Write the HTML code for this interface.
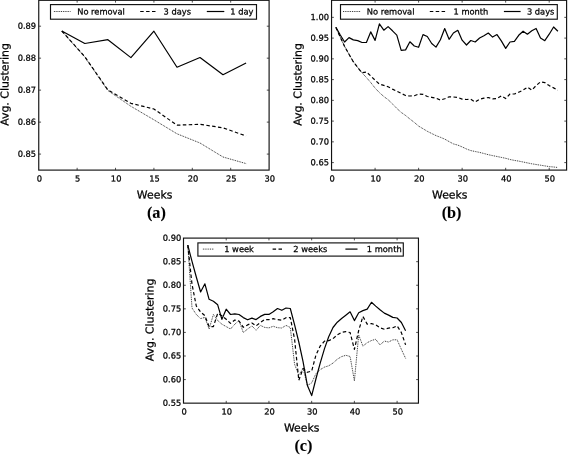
<!DOCTYPE html>
<html lang="en"><head><meta charset="utf-8"><title>Avg. Clustering vs Weeks</title>
<style>
html,body{margin:0;padding:0;background:#fff;}
body{width:568px;height:455px;overflow:hidden;}
svg{display:block;}
text{font-family:"DejaVu Sans","Liberation Sans",sans-serif;fill:#000;text-rendering:geometricPrecision;stroke:#000;stroke-width:0.25px;}
.tk{font-size:8.3px;}
.lb{font-size:10.9px;}
.lg{font-size:8.3px;}
.cap{font-family:"Liberation Serif",serif;font-weight:bold;font-size:16.3px;stroke-width:0.08px;}
.ax{fill:none;stroke:#111;stroke-width:1.15;}
.t{stroke:#222;stroke-width:0.8;}
.s{fill:none;stroke:#000;stroke-width:1.2;stroke-linejoin:round;}
.d{fill:none;stroke:#000;stroke-width:1.2;stroke-dasharray:3.5 2.4;stroke-linejoin:round;}
.o{fill:none;stroke:#111;stroke-width:0.9;stroke-dasharray:0.9 0.9;}
</style></head><body>
<svg width="568" height="455" viewBox="0 0 568 455">
<rect width="568" height="455" fill="#fff"/>
<rect class="ax" x="38.75" y="0.3" width="230.35000000000002" height="169.79999999999998"/>
<text class="tk" transform="translate(39.35,181.40) skewY(0.03)" text-anchor="middle">0</text>
<line class="t" x1="77.14" y1="170.1" x2="77.14" y2="167.79999999999998"/>
<line class="t" x1="77.14" y1="0.3" x2="77.14" y2="2.5999999999999996"/>
<text class="tk" transform="translate(77.74,181.40) skewY(0.03)" text-anchor="middle">5</text>
<line class="t" x1="115.53" y1="170.1" x2="115.53" y2="167.79999999999998"/>
<line class="t" x1="115.53" y1="0.3" x2="115.53" y2="2.5999999999999996"/>
<text class="tk" transform="translate(116.13,181.40) skewY(0.03)" text-anchor="middle">10</text>
<line class="t" x1="153.92000000000002" y1="170.1" x2="153.92000000000002" y2="167.79999999999998"/>
<line class="t" x1="153.92000000000002" y1="0.3" x2="153.92000000000002" y2="2.5999999999999996"/>
<text class="tk" transform="translate(154.52,181.40) skewY(0.03)" text-anchor="middle">15</text>
<line class="t" x1="192.31" y1="170.1" x2="192.31" y2="167.79999999999998"/>
<line class="t" x1="192.31" y1="0.3" x2="192.31" y2="2.5999999999999996"/>
<text class="tk" transform="translate(192.91,181.40) skewY(0.03)" text-anchor="middle">20</text>
<line class="t" x1="230.7" y1="170.1" x2="230.7" y2="167.79999999999998"/>
<line class="t" x1="230.7" y1="0.3" x2="230.7" y2="2.5999999999999996"/>
<text class="tk" transform="translate(231.30,181.40) skewY(0.03)" text-anchor="middle">25</text>
<text class="tk" transform="translate(269.69,181.40) skewY(0.03)" text-anchor="middle">30</text>
<line class="t" x1="38.75" y1="26.2" x2="41.05" y2="26.2"/>
<line class="t" x1="269.1" y1="26.2" x2="266.8" y2="26.2"/>
<text class="tk" transform="translate(36.15,28.80) skewY(0.03)" text-anchor="end">0.89</text>
<line class="t" x1="38.75" y1="58.17" x2="41.05" y2="58.17"/>
<line class="t" x1="269.1" y1="58.17" x2="266.8" y2="58.17"/>
<text class="tk" transform="translate(36.15,60.77) skewY(0.03)" text-anchor="end">0.88</text>
<line class="t" x1="38.75" y1="90.14" x2="41.05" y2="90.14"/>
<line class="t" x1="269.1" y1="90.14" x2="266.8" y2="90.14"/>
<text class="tk" transform="translate(36.15,92.74) skewY(0.03)" text-anchor="end">0.87</text>
<line class="t" x1="38.75" y1="122.11" x2="41.05" y2="122.11"/>
<line class="t" x1="269.1" y1="122.11" x2="266.8" y2="122.11"/>
<text class="tk" transform="translate(36.15,124.71) skewY(0.03)" text-anchor="end">0.86</text>
<line class="t" x1="38.75" y1="154.07999999999998" x2="41.05" y2="154.07999999999998"/>
<line class="t" x1="269.1" y1="154.07999999999998" x2="266.8" y2="154.07999999999998"/>
<text class="tk" transform="translate(36.15,156.68) skewY(0.03)" text-anchor="end">0.85</text>
<text class="lb" transform="translate(154.62,198.40) skewY(0.03)" text-anchor="middle">Weeks</text>
<text class="lb" transform="translate(8.60,84.50) rotate(-90) skewY(0.03)" text-anchor="middle">Avg. Clustering</text>
<text class="cap" transform="translate(156.43,217.80) skewY(0.03)" text-anchor="middle">(a)</text>
<polyline class="o" points="61.8,31.0 84.8,57.0 107.9,90.5 130.9,106.3 153.9,119.8 177.0,133.8 200.0,143.0 223.0,157.0 246.1,163.6"/>
<polyline class="d" points="61.8,31.0 84.8,56.7 107.9,90.0 130.9,103.3 153.9,109.0 177.0,125.2 200.0,124.3 223.0,127.8 246.1,136.0"/>
<polyline class="s" points="61.8,31.0 84.8,43.5 107.9,39.7 130.9,57.6 153.9,31.2 177.0,67.2 200.0,57.5 223.0,74.7 246.1,63.0"/>
<rect class="ax" x="50.5" y="4.6" width="206.0" height="14.6" fill="#fff" style="fill:#fff"/>
<line class="o" x1="53.9" y1="11.499999999999998" x2="70.6" y2="11.499999999999998"/>
<text class="lg" transform="translate(77.20,14.50) skewY(0.03)">No removal</text>
<line class="d" x1="140.2" y1="11.499999999999998" x2="157.7" y2="11.499999999999998"/>
<text class="lg" transform="translate(163.60,14.50) skewY(0.03)">3 days</text>
<line class="s" x1="206.8" y1="11.499999999999998" x2="224.3" y2="11.499999999999998"/>
<text class="lg" transform="translate(230.30,14.50) skewY(0.03)">1 day</text>
<rect class="ax" x="331.55" y="0.3" width="235.05" height="169.79999999999998"/>
<text class="tk" transform="translate(332.15,181.40) skewY(0.03)" text-anchor="middle">0</text>
<line class="t" x1="375.08000000000004" y1="170.1" x2="375.08000000000004" y2="167.79999999999998"/>
<line class="t" x1="375.08000000000004" y1="0.3" x2="375.08000000000004" y2="2.5999999999999996"/>
<text class="tk" transform="translate(375.68,181.40) skewY(0.03)" text-anchor="middle">10</text>
<line class="t" x1="418.61" y1="170.1" x2="418.61" y2="167.79999999999998"/>
<line class="t" x1="418.61" y1="0.3" x2="418.61" y2="2.5999999999999996"/>
<text class="tk" transform="translate(419.21,181.40) skewY(0.03)" text-anchor="middle">20</text>
<line class="t" x1="462.14" y1="170.1" x2="462.14" y2="167.79999999999998"/>
<line class="t" x1="462.14" y1="0.3" x2="462.14" y2="2.5999999999999996"/>
<text class="tk" transform="translate(462.74,181.40) skewY(0.03)" text-anchor="middle">30</text>
<line class="t" x1="505.67" y1="170.1" x2="505.67" y2="167.79999999999998"/>
<line class="t" x1="505.67" y1="0.3" x2="505.67" y2="2.5999999999999996"/>
<text class="tk" transform="translate(506.27,181.40) skewY(0.03)" text-anchor="middle">40</text>
<line class="t" x1="549.2" y1="170.1" x2="549.2" y2="167.79999999999998"/>
<line class="t" x1="549.2" y1="0.3" x2="549.2" y2="2.5999999999999996"/>
<text class="tk" transform="translate(549.80,181.40) skewY(0.03)" text-anchor="middle">50</text>
<line class="t" x1="331.55" y1="17.35" x2="333.85" y2="17.35"/>
<line class="t" x1="566.6" y1="17.35" x2="564.3000000000001" y2="17.35"/>
<text class="tk" transform="translate(328.95,19.95) skewY(0.03)" text-anchor="end">1.00</text>
<line class="t" x1="331.55" y1="38.1" x2="333.85" y2="38.1"/>
<line class="t" x1="566.6" y1="38.1" x2="564.3000000000001" y2="38.1"/>
<text class="tk" transform="translate(328.95,40.70) skewY(0.03)" text-anchor="end">0.95</text>
<line class="t" x1="331.55" y1="58.85" x2="333.85" y2="58.85"/>
<line class="t" x1="566.6" y1="58.85" x2="564.3000000000001" y2="58.85"/>
<text class="tk" transform="translate(328.95,61.45) skewY(0.03)" text-anchor="end">0.90</text>
<line class="t" x1="331.55" y1="79.6" x2="333.85" y2="79.6"/>
<line class="t" x1="566.6" y1="79.6" x2="564.3000000000001" y2="79.6"/>
<text class="tk" transform="translate(328.95,82.20) skewY(0.03)" text-anchor="end">0.85</text>
<line class="t" x1="331.55" y1="100.35" x2="333.85" y2="100.35"/>
<line class="t" x1="566.6" y1="100.35" x2="564.3000000000001" y2="100.35"/>
<text class="tk" transform="translate(328.95,102.95) skewY(0.03)" text-anchor="end">0.80</text>
<line class="t" x1="331.55" y1="121.1" x2="333.85" y2="121.1"/>
<line class="t" x1="566.6" y1="121.1" x2="564.3000000000001" y2="121.1"/>
<text class="tk" transform="translate(328.95,123.70) skewY(0.03)" text-anchor="end">0.75</text>
<line class="t" x1="331.55" y1="141.85" x2="333.85" y2="141.85"/>
<line class="t" x1="566.6" y1="141.85" x2="564.3000000000001" y2="141.85"/>
<text class="tk" transform="translate(328.95,144.45) skewY(0.03)" text-anchor="end">0.70</text>
<line class="t" x1="331.55" y1="162.6" x2="333.85" y2="162.6"/>
<line class="t" x1="566.6" y1="162.6" x2="564.3000000000001" y2="162.6"/>
<text class="tk" transform="translate(328.95,165.20) skewY(0.03)" text-anchor="end">0.65</text>
<text class="lb" transform="translate(449.78,198.40) skewY(0.03)" text-anchor="middle">Weeks</text>
<text class="lb" transform="translate(301.50,84.50) rotate(-90) skewY(0.03)" text-anchor="middle">Avg. Clustering</text>
<text class="cap" transform="translate(451.58,217.80) skewY(0.03)" text-anchor="middle">(b)</text>
<polyline class="o" points="335.9,27.4 340.3,37.2 344.6,46.4 349.0,54.3 353.3,61.7 357.7,67.5 362.0,72.8 366.4,77.5 370.7,82.5 375.1,88.1 379.4,92.6 383.8,96.5 388.1,99.7 392.5,103.9 396.8,108.4 401.2,112.4 405.6,115.5 409.9,119.0 414.3,122.4 418.6,126.1 423.0,128.7 427.3,131.3 431.7,133.5 436.0,135.6 440.4,137.3 444.7,139.1 449.1,141.6 453.4,143.9 457.8,145.1 462.1,146.9 466.5,149.0 470.8,150.6 475.2,151.5 479.6,152.4 483.9,153.5 488.3,154.7 492.6,155.6 497.0,156.5 501.3,157.4 505.7,158.3 510.0,159.5 514.4,160.4 518.7,161.1 523.1,162.0 527.4,162.9 531.8,163.8 536.1,164.5 540.5,165.2 544.8,165.9 549.2,166.6 553.6,167.0 557.9,167.5"/>
<polyline class="d" points="335.9,27.4 340.3,37.2 344.6,46.4 349.0,54.3 353.3,61.7 357.7,67.5 362.0,72.8 366.4,72.0 370.7,75.9 375.1,80.2 379.4,84.1 383.8,85.4 388.1,86.8 392.5,89.1 396.8,91.2 401.2,93.4 405.6,95.5 409.9,96.0 414.3,95.7 418.6,94.1 423.0,94.4 427.3,96.5 431.7,97.3 436.0,98.1 440.4,100.1 444.7,98.8 449.1,96.8 453.4,97.0 457.8,97.5 462.1,99.1 466.5,99.5 470.8,99.3 475.2,102.0 479.6,99.3 483.9,98.2 488.3,97.5 492.6,98.8 497.0,98.6 501.3,95.9 505.7,98.6 510.0,94.0 514.4,94.0 518.7,92.2 523.1,90.1 527.4,87.2 531.8,90.1 536.1,85.6 540.5,81.9 544.8,82.6 549.2,85.6 553.6,87.9 557.9,90.1"/>
<polyline class="s" points="335.9,27.2 340.3,35.0 344.6,42.0 349.0,37.6 353.3,39.9 357.7,40.6 362.0,42.5 366.4,42.5 370.7,31.9 375.1,40.4 379.4,23.9 383.8,30.2 388.1,26.6 392.5,30.8 396.8,35.1 401.2,50.3 405.6,49.9 409.9,41.8 414.3,46.0 418.6,47.3 423.0,34.6 427.3,36.5 431.7,43.5 436.0,47.1 440.4,39.8 444.7,28.5 449.1,39.3 453.4,33.0 457.8,30.3 462.1,40.2 466.5,45.0 470.8,40.5 475.2,42.0 479.6,38.0 483.9,35.7 488.3,33.0 492.6,37.1 497.0,34.6 501.3,40.9 505.7,48.4 510.0,42.0 514.4,41.4 518.7,35.3 523.1,31.2 527.4,34.2 531.8,30.8 536.1,28.5 540.5,38.0 544.8,40.7 549.2,34.2 553.6,27.0 557.9,31.2"/>
<rect class="ax" x="340.5" y="4.6" width="216.79999999999995" height="14.6" fill="#fff" style="fill:#fff"/>
<line class="o" x1="343" y1="11.499999999999998" x2="360.4" y2="11.499999999999998"/>
<text class="lg" transform="translate(366.80,14.50) skewY(0.03)">No removal</text>
<line class="d" x1="429.8" y1="11.499999999999998" x2="447.3" y2="11.499999999999998"/>
<text class="lg" transform="translate(453.50,14.50) skewY(0.03)">1 month</text>
<line class="s" x1="503.9" y1="11.499999999999998" x2="520.6" y2="11.499999999999998"/>
<text class="lg" transform="translate(526.90,14.50) skewY(0.03)">3 days</text>
<rect class="ax" x="183.5" y="238.1" width="234.95" height="165.04999999999998"/>
<text class="tk" transform="translate(184.10,414.40) skewY(0.03)" text-anchor="middle">0</text>
<line class="t" x1="226.22" y1="403.15" x2="226.22" y2="400.84999999999997"/>
<line class="t" x1="226.22" y1="238.1" x2="226.22" y2="240.4"/>
<text class="tk" transform="translate(226.82,414.40) skewY(0.03)" text-anchor="middle">10</text>
<line class="t" x1="268.94" y1="403.15" x2="268.94" y2="400.84999999999997"/>
<line class="t" x1="268.94" y1="238.1" x2="268.94" y2="240.4"/>
<text class="tk" transform="translate(269.54,414.40) skewY(0.03)" text-anchor="middle">20</text>
<line class="t" x1="311.65999999999997" y1="403.15" x2="311.65999999999997" y2="400.84999999999997"/>
<line class="t" x1="311.65999999999997" y1="238.1" x2="311.65999999999997" y2="240.4"/>
<text class="tk" transform="translate(312.26,414.40) skewY(0.03)" text-anchor="middle">30</text>
<line class="t" x1="354.38" y1="403.15" x2="354.38" y2="400.84999999999997"/>
<line class="t" x1="354.38" y1="238.1" x2="354.38" y2="240.4"/>
<text class="tk" transform="translate(354.98,414.40) skewY(0.03)" text-anchor="middle">40</text>
<line class="t" x1="397.1" y1="403.15" x2="397.1" y2="400.84999999999997"/>
<line class="t" x1="397.1" y1="238.1" x2="397.1" y2="240.4"/>
<text class="tk" transform="translate(397.70,414.40) skewY(0.03)" text-anchor="middle">50</text>
<text class="tk" transform="translate(181.30,240.70) skewY(0.03)" text-anchor="end">0.90</text>
<line class="t" x1="183.5" y1="261.68" x2="185.8" y2="261.68"/>
<line class="t" x1="418.45" y1="261.68" x2="416.15" y2="261.68"/>
<text class="tk" transform="translate(181.30,264.28) skewY(0.03)" text-anchor="end">0.85</text>
<line class="t" x1="183.5" y1="285.26" x2="185.8" y2="285.26"/>
<line class="t" x1="418.45" y1="285.26" x2="416.15" y2="285.26"/>
<text class="tk" transform="translate(181.30,287.86) skewY(0.03)" text-anchor="end">0.80</text>
<line class="t" x1="183.5" y1="308.84" x2="185.8" y2="308.84"/>
<line class="t" x1="418.45" y1="308.84" x2="416.15" y2="308.84"/>
<text class="tk" transform="translate(181.30,311.44) skewY(0.03)" text-anchor="end">0.75</text>
<line class="t" x1="183.5" y1="332.41999999999996" x2="185.8" y2="332.41999999999996"/>
<line class="t" x1="418.45" y1="332.41999999999996" x2="416.15" y2="332.41999999999996"/>
<text class="tk" transform="translate(181.30,335.02) skewY(0.03)" text-anchor="end">0.70</text>
<line class="t" x1="183.5" y1="356.0" x2="185.8" y2="356.0"/>
<line class="t" x1="418.45" y1="356.0" x2="416.15" y2="356.0"/>
<text class="tk" transform="translate(181.30,358.60) skewY(0.03)" text-anchor="end">0.65</text>
<line class="t" x1="183.5" y1="379.58" x2="185.8" y2="379.58"/>
<line class="t" x1="418.45" y1="379.58" x2="416.15" y2="379.58"/>
<text class="tk" transform="translate(181.30,382.18) skewY(0.03)" text-anchor="end">0.60</text>
<text class="tk" transform="translate(181.30,405.76) skewY(0.03)" text-anchor="end">0.55</text>
<text class="lb" transform="translate(301.68,431.60) skewY(0.03)" text-anchor="middle">Weeks</text>
<text class="lb" transform="translate(153.50,319.93) rotate(-90) skewY(0.03)" text-anchor="middle">Avg. Clustering</text>
<text class="cap" transform="translate(303.48,450.70) skewY(0.03)" text-anchor="middle">(c)</text>
<polyline class="o" points="187.8,245.2 192.0,308.0 196.3,314.5 200.6,318.6 204.9,317.4 209.1,329.0 213.4,314.5 217.7,320.5 221.9,324.2 226.2,326.6 230.5,329.0 234.8,324.2 239.0,320.5 243.3,332.6 247.6,329.0 251.9,325.9 256.1,330.2 260.4,325.4 264.7,327.4 268.9,327.9 273.2,326.3 277.5,327.7 281.8,328.0 286.0,325.4 290.3,327.5 294.6,364.4 298.8,375.0 303.1,368.4 307.4,385.5 311.7,382.9 315.9,373.7 320.2,369.7 324.5,367.1 328.7,365.8 333.0,363.1 337.3,359.2 341.6,356.6 345.8,355.3 350.1,356.5 354.4,380.8 358.7,335.0 362.9,346.1 367.2,342.7 371.5,340.5 375.7,339.3 380.0,344.9 384.3,341.1 388.6,342.0 392.8,339.8 397.1,339.8 401.4,349.4 405.6,358.4"/>
<polyline class="d" points="187.8,245.2 192.0,284.3 196.3,306.0 200.6,312.0 204.9,315.7 209.1,326.6 213.4,326.6 217.7,313.3 221.9,315.7 226.2,319.3 230.5,323.4 234.8,320.0 239.0,321.0 243.3,327.3 247.6,324.9 251.9,323.0 256.1,325.9 260.4,322.5 264.7,319.5 268.9,319.7 273.2,318.7 277.5,319.7 281.8,320.1 286.0,317.7 290.3,317.5 294.6,339.4 298.8,380.3 303.1,368.4 307.4,372.3 311.7,371.0 315.9,355.2 320.2,346.0 324.5,341.2 328.7,340.7 333.0,338.6 337.3,334.9 341.6,332.4 345.8,331.7 350.1,332.5 354.4,349.4 358.7,330.5 362.9,316.5 367.2,324.1 371.5,323.6 375.7,324.8 380.0,327.7 384.3,329.2 388.6,328.1 392.8,327.7 397.1,325.9 401.4,332.6 405.6,344.9"/>
<polyline class="s" points="187.8,245.2 192.0,261.4 196.3,277.0 200.6,292.0 204.9,283.8 209.1,299.3 213.4,301.2 217.7,304.8 221.9,319.3 226.2,309.2 230.5,314.5 234.8,313.8 239.0,314.5 243.3,317.6 247.6,319.8 251.9,318.1 256.1,319.6 260.4,316.4 264.7,314.4 268.9,314.4 273.2,311.7 277.5,308.5 281.8,310.3 286.0,308.0 290.3,308.5 294.6,324.9 298.8,342.0 303.1,361.8 307.4,385.5 311.7,395.6 315.9,379.0 320.2,363.1 324.5,348.6 328.7,336.7 333.0,327.5 337.3,322.2 341.6,318.5 345.8,315.2 350.1,311.8 354.4,320.6 358.7,312.7 362.9,310.6 367.2,309.1 371.5,302.3 375.7,306.1 380.0,309.7 384.3,313.1 388.6,315.1 392.8,317.4 397.1,318.0 401.4,322.5 405.6,330.8"/>
<rect class="ax" x="197.9" y="242.9" width="205.4" height="13.200000000000017" fill="#fff" style="fill:#fff"/>
<line class="o" x1="202.9" y1="249.1" x2="214" y2="249.1"/>
<text class="lg" transform="translate(224.20,252.00) skewY(0.03)">1 week</text>
<line class="d" x1="272.6" y1="249.1" x2="283" y2="249.1"/>
<text class="lg" transform="translate(293.30,252.00) skewY(0.03)">2 weeks</text>
<line class="s" x1="345.4" y1="249.1" x2="357.5" y2="249.1"/>
<text class="lg" transform="translate(366.80,252.00) skewY(0.03)">1 month</text>
</svg></body></html>
